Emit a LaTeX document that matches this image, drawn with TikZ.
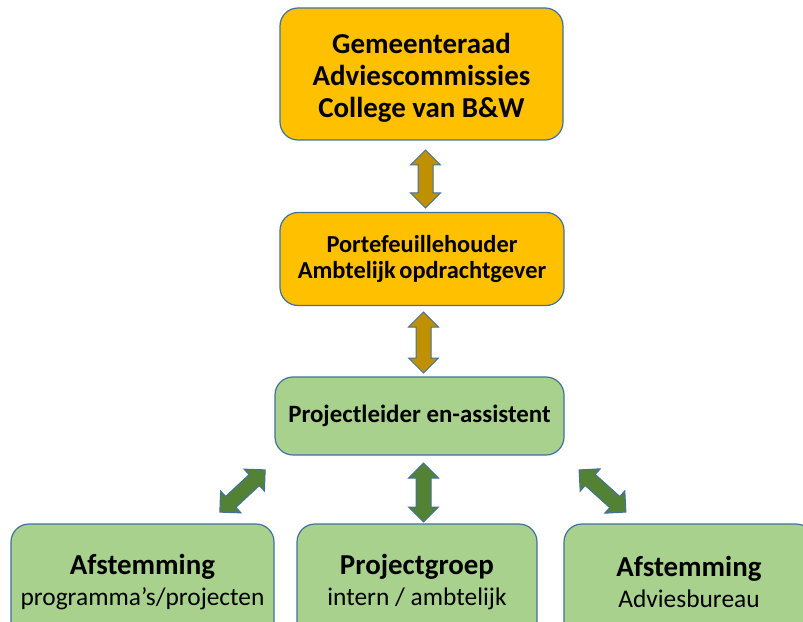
\documentclass[tikz,border=0pt]{standalone}
\usepackage{fontspec}
\setmainfont{Carlito}
\usetikzlibrary{shapes.arrows}
\definecolor{boxorange}{HTML}{FFC000}
\definecolor{boxgreen}{HTML}{A9D18E}
\definecolor{arrowgold}{HTML}{BF9000}
\definecolor{arrowgreen}{HTML}{548235}
\definecolor{edgeblue}{HTML}{41719C}
\newcommand{\kop}[1]{{\fontsize{29}{30}\selectfont\bfseries #1}}
\begin{document}
\begin{tikzpicture}[x=1bp, y=-1bp,
  box/.style={draw=edgeblue, line width=1.2bp, rounded corners=18bp, align=center, inner sep=0pt},
  blockarrow/.style={double arrow, draw=edgeblue, line width=1bp, inner sep=7bp, double arrow head extend=7.5bp},
  onder/.style={box, fill=boxgreen, minimum height=116bp, font=\fontsize{25.5}{30}\selectfont},
]
\useasboundingbox (0,0) rectangle (803,622);
\node[box, fill=boxorange, minimum width=283bp, minimum height=132bp,
  label={[align=center, yshift=-4bp, font=\fontsize{29}{32}\selectfont\bfseries]center:Gemeenteraad\\Adviescommissies\\College van B\&W}] (raad) at (421.5,74) {};
\node[box, fill=boxorange, minimum width=284bp, minimum height=93bp, font=\fontsize{24.5}{27}\selectfont\bfseries] (houder) at (422,259) {Portefeuillehouder\\Ambtelijk\hspace{-2bp} opdrachtgever};
\node[box, fill=boxgreen, minimum width=289bp, minimum height=78bp, font=\fontsize{25}{27}\selectfont\bfseries] (leider) at (419.5,416) {Projectleider en-assistent};
\begin{scope}
\clip (0,0) rectangle (803,622);
\node[onder, minimum width=263bp] (links) at (142.5,582) {\kop{Afstemming}\\[1bp]programma’s/projecten};
\node[onder, minimum width=240bp] (groep) at (417,582) {\kop{Projectgroep}\\[1bp]intern / ambtelijk};
\node[onder, minimum width=250bp] (rechts) at (689,582) {\kop{Afstemming}\\[1bp]Adviesbureau};
\end{scope}
\node[blockarrow, fill=arrowgold, minimum height=58bp, rotate=90] (pijl1) at (425.5,179) {};
\node[blockarrow, fill=arrowgold, minimum height=61bp, rotate=90] (pijl2) at (423.5,342.5) {};
\node[blockarrow, fill=arrowgreen, minimum height=62bp, rotate=43] (pijl3) at (242.5,491) {};
\node[blockarrow, fill=arrowgreen, minimum height=59bp, rotate=90] (pijl4) at (423.5,492.5) {};
\node[blockarrow, fill=arrowgreen, minimum height=63bp, rotate=-42] (pijl5) at (602.5,491) {};
\end{tikzpicture}
\end{document}
